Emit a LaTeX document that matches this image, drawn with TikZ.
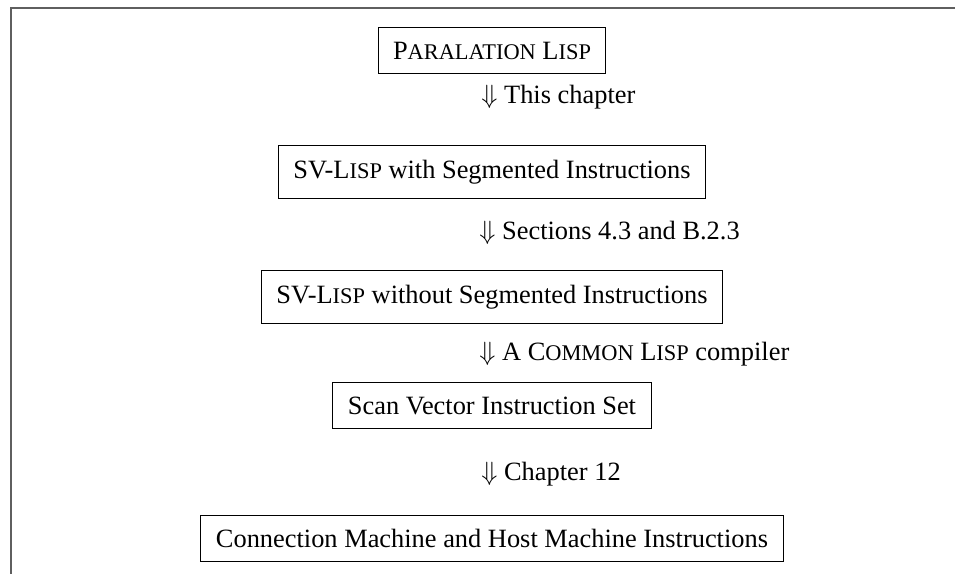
\RequirePackage{fix-cm}
\documentclass[tikz,border=0pt]{standalone}
\usepackage{fontspec}
\setmainfont{Liberation Serif}
\usepackage{amsmath}
\usepackage{tikz}
\usetikzlibrary{positioning}
\definecolor{framegray}{RGB}{95,95,95}
\newcommand{\smcap}[1]{{\fontsize{11.2pt}{12pt}\selectfont #1}}
\tikzset{
  stage/.style={rectangle, draw=black, line width=0.5pt,
    inner xsep=7.5pt, inner ysep=7pt,
    font=\fontsize{13.2pt}{16pt}\selectfont},
  via/.style={anchor=west, inner sep=0pt,
    font=\fontsize{13.2pt}{16pt}\selectfont},
  frameline/.style={line width=1pt, color=framegray}
}
\begin{document}
\begin{tikzpicture}[x=0.5pt, y=-0.5pt]
  \useasboundingbox (0,0) rectangle (955,574);

  % Frame
  \draw[frameline] (955,7.5) -- (10.5,7.5) -- (10.5,574);

  % Stages
  \node[stage] (para) at (492,50.5) {P\smcap{ARALATION} L\smcap{ISP}};
  \node[stage] (segm) at (492,172) {SV-L\smcap{ISP} with Segmented Instructions};
  \node[stage] (nseg) at (492,297) {SV-L\smcap{ISP} without Segmented Instructions};
  \node[stage] (scan) at (492,405.5) {Scan Vector Instruction Set};
  \node[stage] (cmhost) at (492,538.5) {Connection Machine and Host Machine Instructions};

  % Translation steps
  \node[via] (v1) at (481,97) {$\Downarrow$ This chapter};
  \node[via] (v2) at (479,233) {$\Downarrow$ Sections 4.3 and B.2.3};
  \node[via] (v3) at (479,354) {$\Downarrow$ A C\smcap{OMMON} L\smcap{ISP} compiler};
  \node[via] (v4) at (481,474) {$\Downarrow$ Chapter 12};
\end{tikzpicture}
\end{document}
